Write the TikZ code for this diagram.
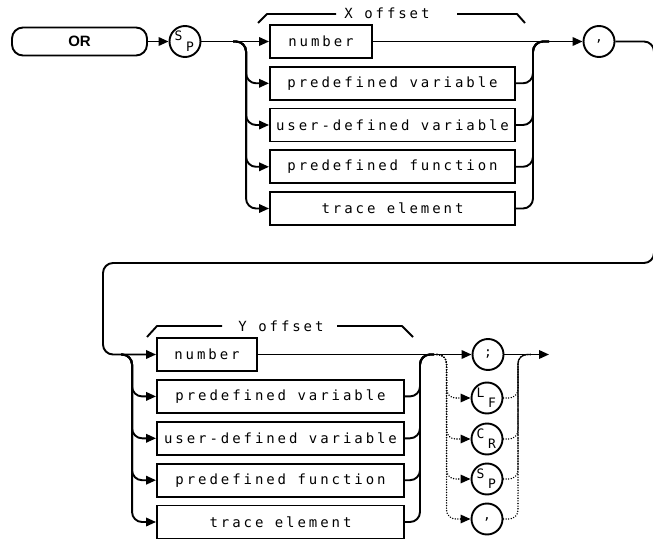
\documentclass[tikz,border=0pt]{standalone}
\usepackage{fontspec}
\newfontfamily\hpfont[LetterSpace=21]{DejaVu Sans Mono}
\newfontfamily\hpplain{DejaVu Sans Mono}
\newfontfamily\orfont{Liberation Sans}
\usetikzlibrary{arrows.meta,calc}
\begin{document}
\begin{tikzpicture}[x=1pt,y=-1pt,
  ln/.style={line width=1.9pt, line join=round},
  arr/.style={ln, -{Triangle[length=10pt,width=8.5pt]}},
  box/.style={draw, line width=1.9pt, minimum height=33pt, inner sep=0pt,
    font=\hpfont\fontsize{14}{14}\selectfont},
  circ/.style={draw, circle, line width=1.9pt, minimum size=31pt, inner sep=0pt,
    font=\hpplain\fontsize{13}{13}\selectfont},
  sub/.style={inner sep=0pt, font=\hpplain\fontsize{13}{13}\selectfont},
  dots/.style={line width=1.6pt, dash pattern=on 0.01pt off 2.6pt, line cap=round},
  darr/.style={dots, -{Triangle[length=10pt,width=8.5pt]}},
  lab/.style={inner sep=0pt, font=\hpfont\fontsize{14}{14}\selectfont},
]
\useasboundingbox (0,0) rectangle (653,540);

% ---------- top part ----------
\node[draw, line width=1.9pt, rounded corners=11pt, minimum width=135pt, minimum height=28pt,
  font=\orfont\bfseries\fontsize{15}{15}\selectfont] (or) at (79.5,41.5) {OR};
\node[circ] (sp1) at (185,41.5) {};
\node[sub] at ($(sp1)+(-6.5,-5.5)$) {S};
\node[sub] at ($(sp1)+(5,5)$) {P};

\node[box, minimum width=102pt] (xnum) at (321,41.5) {number};
\node[box, minimum width=245pt] (xpv)  at (392.5,83.3) {predefined variable};
\node[box, minimum width=245pt] (xudv) at (392.5,125) {user-defined variable};
\node[box, minimum width=245pt] (xpf)  at (392.5,166.8) {predefined function};
\node[box, minimum width=245pt] (xte)  at (392.5,208.5) {trace element};

\node[circ] (c1) at (599,41.5) {,};

\node[lab] (xlab) at (387,13) {X offset};
\coordinate (xb1) at (258,23);
\coordinate (xb2) at (267,14);
\coordinate (xb3) at (336,14);
\coordinate (xb4) at (457,14);
\coordinate (xb5) at (517,14);
\coordinate (xb6) at (525,23);
\draw[ln] (xb1) -- (xb2) -- (xb3);
\draw[ln] (xb4) -- (xb5) -- (xb6);

\coordinate (xsplit) at (233,41.5);
\coordinate (xjoin) at (549,41.5);

\draw[arr] (or.east) -- (sp1.west);
\draw[arr] (sp1.east) -- (xnum.west);
\foreach \n in {xpv,xudv,xpf,xte}
  \draw[arr, rounded corners=10pt] (xsplit) -| ([xshift=-23pt]\n.west) -- (\n.west);
\foreach \n in {xpv,xudv,xpf,xte}
  \draw[ln, rounded corners=10pt] (\n.east) -| ([xshift=-16pt]xjoin) -- (xjoin);
\draw[arr] (xnum.east) -- (c1.west);

% ---------- return line ----------
\coordinate (ret1) at (654,263);
\coordinate (ret2) at (103,263);

% ---------- bottom part ----------
\node[box, minimum width=100pt] (ynum) at (207,354.5) {number};
\node[box, minimum width=247pt] (ypv)  at (280.5,396.4) {predefined variable};
\node[box, minimum width=247pt] (yudv) at (280.5,438.3) {user-defined variable};
\node[box, minimum width=247pt] (ypf)  at (280.5,480.2) {predefined function};
\node[box, minimum width=247pt] (yte)  at (280.5,522) {trace element};

\draw[arr, rounded corners=10pt] (c1.east) -| (ret1) -- (ret2) |- (ynum.west);

\node[lab] (ylab) at (281,326) {Y offset};
\coordinate (yb1) at (147,337);
\coordinate (yb2) at (157,326);
\coordinate (yb3) at (222,326);
\coordinate (yb4) at (337,326);
\coordinate (yb5) at (402,326);
\coordinate (yb6) at (413,337);
\draw[ln] (yb1) -- (yb2) -- (yb3);
\draw[ln] (yb4) -- (yb5) -- (yb6);

\node[circ] (semi) at (488,354.5) {;};
\node[circ] (lf)  at (487,398) {};
\node[sub] at ($(lf)+(-6.5,-5.5)$) {L};
\node[sub] at ($(lf)+(5,5)$) {F};
\node[circ] (cr)  at (487,439) {};
\node[sub] at ($(cr)+(-6.5,-5.5)$) {C};
\node[sub] at ($(cr)+(5,5)$) {R};
\node[circ] (sp2) at (487,479) {};
\node[sub] at ($(sp2)+(-6.5,-5.5)$) {S};
\node[sub] at ($(sp2)+(5,5)$) {P};
\node[circ] (cm2) at (487,519) {,};

\coordinate (ysplit) at (121,354.5);
\coordinate (yjoin) at (434,354.5);
\coordinate (dsplit) at (437,354.5);
\coordinate (djoin) at (531,354.5);
\coordinate (yend) at (549,354.5);

\foreach \n in {ypv,yudv,ypf,yte}
  \draw[arr, rounded corners=10pt] (ysplit) -| ([xshift=-24pt]\n.west) -- (\n.west);
\foreach \n in {ypv,yudv,ypf,yte}
  \draw[ln, rounded corners=10pt] (\n.east) -| ([xshift=-14pt]yjoin) -- (yjoin);
\draw[arr] (ynum.east) -- (semi.west);
\draw[arr] (semi.east) -- (yend);

\foreach \n in {lf,cr,sp2,cm2}
  \draw[darr, rounded corners=9pt] (dsplit) -| ([xshift=-24pt]\n.west) -- (\n.west);
\foreach \n in {lf,cr,sp2,cm2}
  \draw[dots, rounded corners=9pt] (\n.east) -| ([xshift=-13pt]djoin) -- (djoin);
\end{tikzpicture}
\end{document}
